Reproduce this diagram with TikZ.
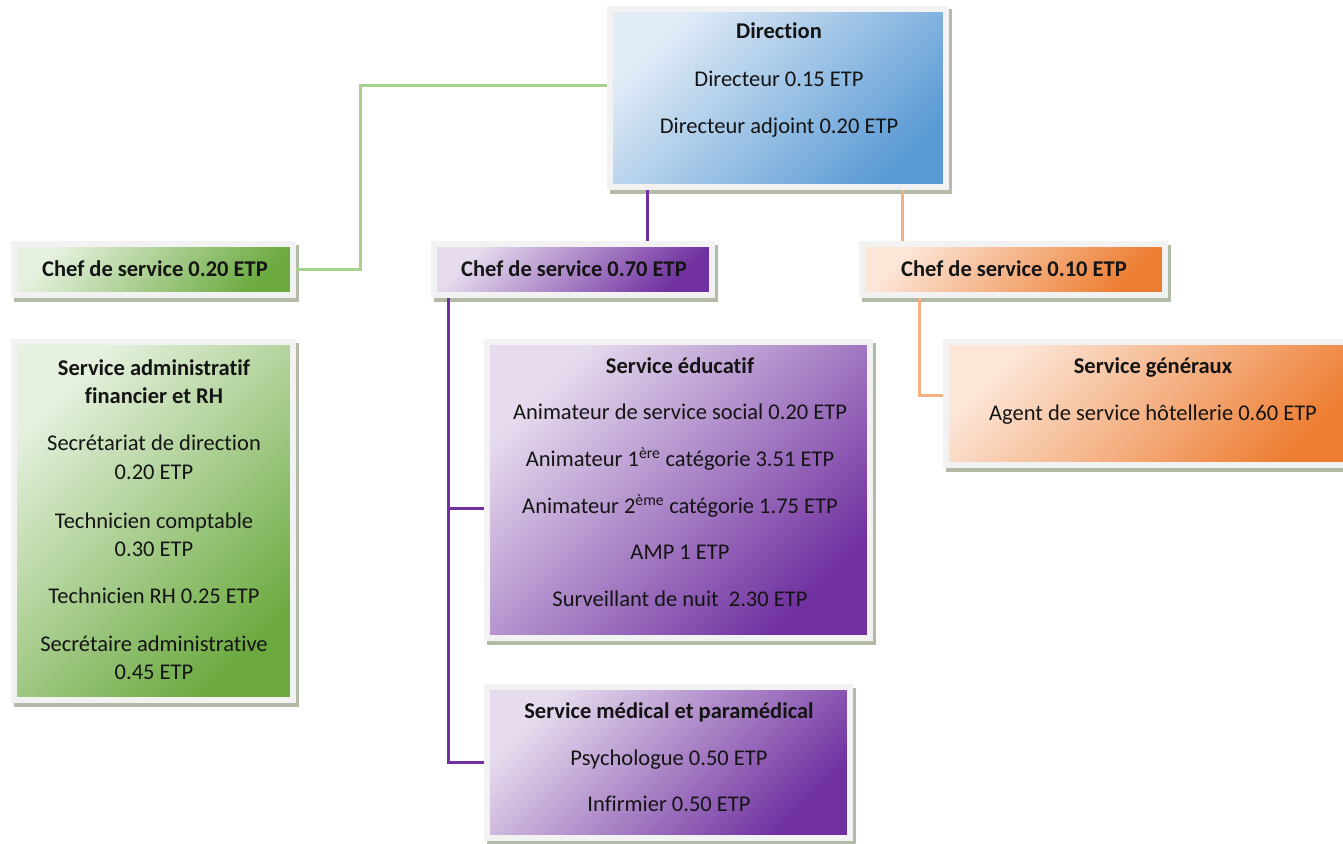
\documentclass[tikz,border=0pt]{standalone}
\usepackage{fontspec}
\setmainfont[Ligatures=NoCommon]{Carlito}
\usetikzlibrary{shadows}
\definecolor{framec}{HTML}{F2F2F2}
\definecolor{shadowc}{HTML}{B2BAA8}
\definecolor{textc}{HTML}{141414}
\definecolor{blueL}{HTML}{E2ECF7}
\definecolor{blueD}{HTML}{5B9BD5}
\definecolor{greenL}{HTML}{E6F1DF}
\definecolor{greenD}{HTML}{6CAA40}
\definecolor{purpL}{HTML}{E6DCEE}
\definecolor{purpD}{HTML}{7030A0}
\definecolor{oranL}{HTML}{FCE6D8}
\definecolor{oranD}{HTML}{ED7D31}
\definecolor{gline}{HTML}{A9D18E}
\definecolor{pline}{HTML}{7030A0}
\definecolor{oline}{HTML}{F4B183}
\begin{document}
\begin{tikzpicture}[x=1pt,y=-1pt,
  box/.style 2 args={draw=framec, line width=6pt, inner sep=0pt,
    top color=#1, bottom color=#2, shading angle=45,
    general shadow={fill=shadowc, draw=shadowc, line width=6pt, shadow xshift=3pt, shadow yshift=-3.5pt}},
  bbox/.style={box={blueL}{blueD}},
  gbox/.style={box={greenL}{greenD}},
  pbox/.style={box={purpL}{purpD}},
  obox/.style={box={oranL}{oranD}},
  txt/.style={font=\fontsize{22.5}{27}\selectfont, text=textc, anchor=base, inner sep=0pt},
  ttl/.style={txt, font=\fontsize{22.5}{27}\selectfont\bfseries},
  conn/.style={line width=3pt}
]
\useasboundingbox (0,0) rectangle (1343,843);

% boxes (centre, inner size + 6)
\node[bbox, minimum width=336pt, minimum height=178pt] (dir) at (778,98) {};
\node[gbox, minimum width=279pt, minimum height=51pt] (chefG) at (153.5,269.5) {};
\node[pbox, minimum width=278pt, minimum height=51pt] (chefP) at (573,269.5) {};
\node[obox, minimum width=303pt, minimum height=51pt] (chefO) at (1013.5,269.5) {};
\node[gbox, minimum width=279pt, minimum height=358pt] (admin) at (153.5,521) {};
\node[pbox, minimum width=383pt, minimum height=296pt] (educ) at (678.5,490) {};
\node[pbox, minimum width=363pt, minimum height=151pt] (med) at (668.5,762.5) {};
\node[obox, minimum width=414pt, minimum height=123pt] (gen) at (1153,403.5) {};

% connectors
\coordinate (g1) at (360,85);
\draw[conn, gline] (dir.west |- g1) -- (g1) |- (chefG.east);
\coordinate (p1) at (647,0);
\draw[conn, pline] (dir.south -| p1) -- (chefP.north -| p1);
\coordinate (p2) at (448,0);
\coordinate (p3) at (448,508);
\draw[conn, pline] (chefP.south -| p2) |- (med.west);
\draw[conn, pline] (p3) -- (educ.west |- p3);
\coordinate (o1) at (902,0);
\draw[conn, oline] (dir.south -| o1) -- (chefO.north -| o1);
\coordinate (o2) at (919,395);
\draw[conn, oline] (chefO.south -| o2) |- (gen.west |- o2);

% texts
\node[ttl] (t1) at (779,39) {Direction};
\node[txt] (t2) at (779,86) {Directeur 0.15 ETP};
\node[txt] (t3) at (779,133) {Directeur adjoint 0.20 ETP};

\node[ttl] (t4) at (155,276) {Chef de service 0.20 ETP};
\node[ttl] (t5) at (574,276) {Chef de service 0.70 ETP};
\node[ttl] (t6) at (1014,276) {Chef de service 0.10 ETP};

\node[ttl] (a1) at (154,375) {Service administratif};
\node[ttl] (a2) at (154,403) {financier et RH};
\node[txt] (a3) at (154,450) {Secrétariat de direction};
\node[txt] (a4) at (154,479) {0.20 ETP};
\node[txt] (a5) at (154,528) {Technicien comptable};
\node[txt] (a6) at (154,556) {0.30 ETP};
\node[txt] (a7) at (154,603) {Technicien RH 0.25 ETP};
\node[txt] (a8) at (154,651) {Secrétaire administrative};
\node[txt] (a9) at (154,679) {0.45 ETP};

\node[ttl] (e1) at (680,373) {Service éducatif};
\node[txt] (e2) at (680,419) {Animateur de service social 0.20 ETP};
\node[txt] (e3) at (680,466) {Animateur 1\textsuperscript{ère} catégorie 3.51 ETP};
\node[txt] (e4) at (680,513) {Animateur 2\textsuperscript{ème} catégorie 1.75 ETP};
\node[txt] (e5) at (680,559) {AMP 1 ETP};
\node[txt] (e6) at (680,606) {Surveillant de nuit\ \ 2.30 ETP};

\node[ttl] (m1) at (669,718) {Service médical et paramédical};
\node[txt] (m2) at (669,765) {Psychologue 0.50 ETP};
\node[txt] (m3) at (669,811) {Infirmier 0.50 ETP};

\node[ttl] (s1) at (1153,373) {Service généraux};
\node[txt] (s2) at (1153,420) {Agent de service hôtellerie 0.60 ETP};
\end{tikzpicture}
\end{document}
